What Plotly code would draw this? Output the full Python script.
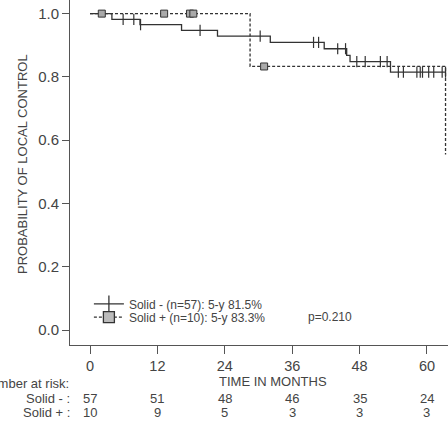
import plotly.graph_objects as go
import numpy as np

# ---- data ----
neg_step_t = [0, 3.9, 8.9, 16.3, 22.7, 32.1, 41.7, 45.7, 46.3, 53.5, 63.4]
neg_step_s = [1.0, 0.982, 0.965, 0.947, 0.929, 0.909, 0.889, 0.868, 0.848, 0.815, 0.815]
neg_cens_t = [5.9, 7.8, 9.0, 19.6, 30.3, 39.8, 40.7, 44.1, 45.5, 47.5, 49.0, 51.7, 52.9,
              54.9, 55.8, 58.2, 58.8, 59.2, 60.3, 61.2, 62.7, 63.3]

pos_step_t = [0, 28.5, 63.3]
pos_step_s = [1.0, 0.833, 0.555]
pos_cens_t = [2.1, 13.2, 17.8, 18.4, 31.0]

risk_times = [0, 12, 24, 36, 48, 60]
risk_neg = [57, 51, 48, 46, 35, 24]
risk_pos = [10, 9, 5, 3, 3, 3]

x_ticks = [0, 12, 24, 36, 48, 60]
y_ticks = [0.0, 0.2, 0.4, 0.6, 0.8, 1.0]

labels = ["Solid - (n=57): 5-y 81.5%", "Solid + (n=10): 5-y 83.3%"]
p_text = "p=0.210"


def level(ts, ss, t):
    idx = np.searchsorted(ts, t, side="right") - 1
    return ss[idx]


FONT = "Liberation Sans, Arial, sans-serif"
INK = "#333333"
GRAY = "#444444"

fig = go.Figure()
# solid - curve
fig.add_trace(go.Scatter(x=neg_step_t, y=neg_step_s, mode="lines", line_shape="hv",
                         line=dict(color=INK, width=1.3), showlegend=False, hoverinfo="skip"))
fig.add_trace(go.Scatter(x=neg_cens_t, y=[level(neg_step_t, neg_step_s, t) for t in neg_cens_t],
                         mode="markers", marker=dict(symbol="line-ns", size=8,
                                                     line=dict(color=INK, width=1.2)),
                         showlegend=False, hoverinfo="skip"))
# solid + curve
fig.add_trace(go.Scatter(x=pos_step_t, y=pos_step_s, mode="lines", line_shape="hv",
                         line=dict(color=INK, width=1.3, dash="3px,2px"), showlegend=False,
                         hoverinfo="skip"))
fig.add_trace(go.Scatter(x=pos_cens_t, y=[level(pos_step_t, pos_step_s, t) for t in pos_cens_t],
                         mode="markers", marker=dict(symbol="square", size=7, color="#aaaaaa",
                                                     line=dict(color=INK, width=1)),
                         showlegend=False, hoverinfo="skip"))
# legend entries (two legends for tight spacing)
fig.add_trace(go.Scatter(x=[None], y=[None], mode="lines+markers", name=labels[0],
                         legend="legend",
                         line=dict(color=INK, width=1.3),
                         marker=dict(symbol="line-ns", size=12, line=dict(color=INK, width=1.3))))
fig.add_trace(go.Scatter(x=[None], y=[None], mode="lines+markers", name=labels[1],
                         legend="legend2",
                         line=dict(color=INK, width=1.3, dash="3px,2px"),
                         marker=dict(symbol="square", size=11, color="#bbbbbb",
                                     line=dict(color=INK, width=1.3))))

TXT = dict(family=FONT, color=GRAY)
annotations = [
    dict(text="PROBABILITY OF LOCAL CONTROL", xref="paper", yref="paper", x=-0.124, y=0.525,
         xanchor="center", yanchor="middle",
         textangle=-90, showarrow=False, font=dict(size=13, **TXT)),
    dict(text="TIME IN MONTHS", xref="paper", yref="paper", x=0.537, y=-0.105,
         xanchor="center", yanchor="middle",
         showarrow=False, font=dict(size=13, **TXT)),
    dict(text="Number at risk:", xref="paper", yref="paper", x=0.003, y=-0.112,
         xanchor="right", yanchor="middle", showarrow=False, font=dict(size=13, **TXT)),
    dict(text="Solid - :", xref="paper", yref="paper", x=0.005, y=-0.154,
         xanchor="right", yanchor="middle", showarrow=False, font=dict(size=13, **TXT)),
    dict(text="Solid + :", xref="paper", yref="paper", x=0.005, y=-0.195,
         xanchor="right", yanchor="middle", showarrow=False, font=dict(size=13, **TXT)),
    dict(text=p_text, xref="x", yref="y", x=42.7, y=0.041, showarrow=False,
         xanchor="center", yanchor="middle", font=dict(size=12, **TXT)),
]
for t, a, b in zip(risk_times, risk_neg, risk_pos):
    annotations.append(dict(text=str(a), xref="x", yref="paper", x=t, y=-0.154, showarrow=False,
                            xanchor="center", yanchor="middle", font=dict(size=13, **TXT)))
    annotations.append(dict(text=str(b), xref="x", yref="paper", x=t, y=-0.195, showarrow=False,
                            xanchor="center", yanchor="middle", font=dict(size=13, **TXT)))

leg_common = dict(xanchor="left", yanchor="middle", bgcolor="rgba(0,0,0,0)",
                  font=dict(size=12, **TXT), itemwidth=30, borderwidth=0)

fig.update_layout(
    width=448, height=425,
    margin=dict(l=70, r=0, t=0, b=80, autoexpand=False),
    plot_bgcolor="white", paper_bgcolor="white",
    font=dict(family=FONT, color=GRAY),
    showlegend=True,
    legend=dict(x=0.05, y=0.119, **leg_common),
    legend2=dict(x=0.05, y=0.081, **leg_common),
    annotations=annotations,
    xaxis=dict(range=[-3.56, 63.74], tickvals=x_ticks, ticks="outside", ticklen=8,
               tickcolor="#555", showline=True, linecolor="#555", linewidth=1,
               showgrid=False, zeroline=False, automargin=False,
               tickfont=dict(size=14.5, color=GRAY)),
    yaxis=dict(range=[-0.047, 1.043], tickvals=y_ticks, tickformat=".1f", ticks="outside",
               ticklen=7, tickcolor="#555", showline=True, linecolor="#555", linewidth=1,
               showgrid=False, zeroline=False, automargin=False,
               tickfont=dict(size=15, color=GRAY)),
)

fig.write_html("out.html")
